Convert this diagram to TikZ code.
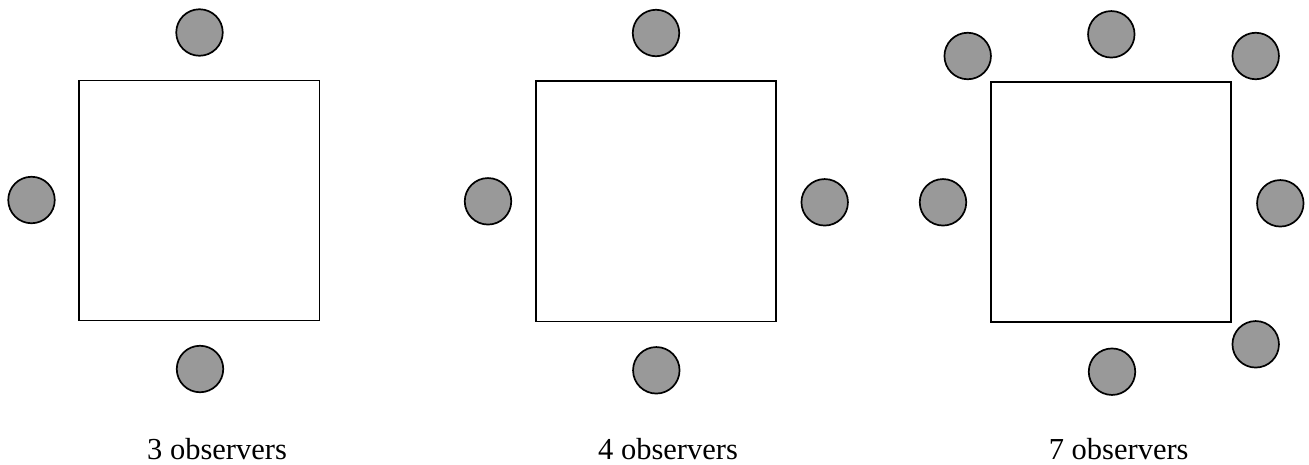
\documentclass[tikz,border=0pt]{standalone}
\usepackage{fontspec}
\setmainfont{Liberation Serif}
\begin{document}
\begin{tikzpicture}[x=1pt,y=-1pt,
  obs/.style={circle,draw=black,line width=1.7pt,fill=obsgrey,minimum size=46.5pt,inner sep=0pt},
  room/.style={draw=black,line width=1.7pt,fill=white},
  caption/.style={anchor=base,font=\fontsize{30.5}{36}\selectfont,inner sep=0pt}]
\definecolor{obsgrey}{HTML}{999999}
\useasboundingbox (0,0) rectangle (1309,464);
% panel 1
\draw[room] (79,80.5) rectangle (319.5,320.5);
\node[obs] (a1) at (199.5,32.5) {};
\node[obs] (a2) at (31.5,200) {};
\node[obs] (a3) at (200,369) {};
\node[caption] (c1) at (217,459.3) {3 observers};
% panel 2
\draw[room] (536,81) rectangle (776,321.5);
\node[obs] (b1) at (656,33) {};
\node[obs] (b2) at (488,201.3) {};
\node[obs] (b3) at (824.7,202.3) {};
\node[obs] (b4) at (656.3,370.3) {};
\node[caption] (c2) at (668,459.3) {4 observers};
% panel 3
\draw[room] (991.3,82.3) rectangle (1231.3,322.3);
\node[obs] (d1) at (1111.3,34.3) {};
\node[obs] (d2) at (967.7,56) {};
\node[obs] (d3) at (1255.7,56) {};
\node[obs] (d4) at (943,202.3) {};
\node[obs] (d5) at (1280.3,203.3) {};
\node[obs] (d6) at (1255.7,344.3) {};
\node[obs] (d7) at (1112,371.7) {};
\node[caption] (c3) at (1118.7,459.3) {7 observers};
\end{tikzpicture}
\end{document}
